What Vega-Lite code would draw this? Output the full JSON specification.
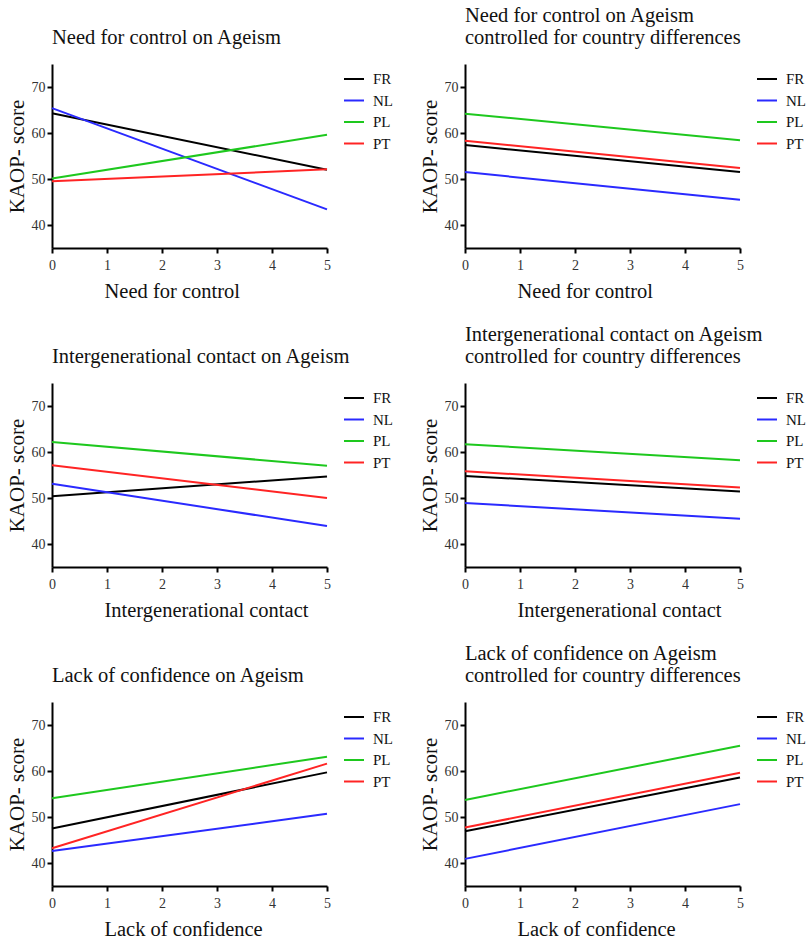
{
  "$schema": "https://vega.github.io/schema/vega-lite/v6.json",
  "background": "white",
  "padding": {"left": 6, "top": 5, "right": 2, "bottom": 2},
  "datasets": {
    "lines": [
      {"panel": 1, "country": "FR", "x": 0, "y": 64.3}, {"panel": 1, "country": "FR", "x": 5, "y": 52.0},
      {"panel": 1, "country": "NL", "x": 0, "y": 65.4}, {"panel": 1, "country": "NL", "x": 5, "y": 43.4},
      {"panel": 1, "country": "PL", "x": 0, "y": 50.1}, {"panel": 1, "country": "PL", "x": 5, "y": 59.6},
      {"panel": 1, "country": "PT", "x": 0, "y": 49.5}, {"panel": 1, "country": "PT", "x": 5, "y": 52.1},

      {"panel": 2, "country": "FR", "x": 0, "y": 57.4}, {"panel": 2, "country": "FR", "x": 5, "y": 51.5},
      {"panel": 2, "country": "NL", "x": 0, "y": 51.5}, {"panel": 2, "country": "NL", "x": 5, "y": 45.5},
      {"panel": 2, "country": "PL", "x": 0, "y": 64.2}, {"panel": 2, "country": "PL", "x": 5, "y": 58.4},
      {"panel": 2, "country": "PT", "x": 0, "y": 58.3}, {"panel": 2, "country": "PT", "x": 5, "y": 52.4},

      {"panel": 3, "country": "FR", "x": 0, "y": 50.4}, {"panel": 3, "country": "FR", "x": 5, "y": 54.7},
      {"panel": 3, "country": "NL", "x": 0, "y": 53.1}, {"panel": 3, "country": "NL", "x": 5, "y": 43.9},
      {"panel": 3, "country": "PL", "x": 0, "y": 62.2}, {"panel": 3, "country": "PL", "x": 5, "y": 57.0},
      {"panel": 3, "country": "PT", "x": 0, "y": 57.1}, {"panel": 3, "country": "PT", "x": 5, "y": 50.0},

      {"panel": 4, "country": "FR", "x": 0, "y": 54.8}, {"panel": 4, "country": "FR", "x": 5, "y": 51.4},
      {"panel": 4, "country": "NL", "x": 0, "y": 48.9}, {"panel": 4, "country": "NL", "x": 5, "y": 45.5},
      {"panel": 4, "country": "PL", "x": 0, "y": 61.7}, {"panel": 4, "country": "PL", "x": 5, "y": 58.2},
      {"panel": 4, "country": "PT", "x": 0, "y": 55.8}, {"panel": 4, "country": "PT", "x": 5, "y": 52.3},

      {"panel": 5, "country": "FR", "x": 0, "y": 47.5}, {"panel": 5, "country": "FR", "x": 5, "y": 59.7},
      {"panel": 5, "country": "NL", "x": 0, "y": 42.6}, {"panel": 5, "country": "NL", "x": 5, "y": 50.7},
      {"panel": 5, "country": "PL", "x": 0, "y": 54.1}, {"panel": 5, "country": "PL", "x": 5, "y": 63.1},
      {"panel": 5, "country": "PT", "x": 0, "y": 43.2}, {"panel": 5, "country": "PT", "x": 5, "y": 61.6},

      {"panel": 6, "country": "FR", "x": 0, "y": 46.9}, {"panel": 6, "country": "FR", "x": 5, "y": 58.6},
      {"panel": 6, "country": "NL", "x": 0, "y": 40.9}, {"panel": 6, "country": "NL", "x": 5, "y": 52.8},
      {"panel": 6, "country": "PL", "x": 0, "y": 53.7}, {"panel": 6, "country": "PL", "x": 5, "y": 65.5},
      {"panel": 6, "country": "PT", "x": 0, "y": 47.7}, {"panel": 6, "country": "PT", "x": 5, "y": 59.6}
    ]
  },
  "data": {"name": "lines"},
  "columns": 2,
  "spacing": {"row": 22, "column": 22},
  "resolve": {"legend": {"color": "independent"}, "scale": {"color": "independent"}},
  "concat": [
    {
      "title": {"text": "Need for control on Ageism"},
      "width": 275, "height": 184,
      "transform": [{"filter": "datum.panel == 1"}],
      "mark": {"type": "line", "strokeWidth": 2},
      "encoding": {
        "x": {"field": "x", "type": "quantitative", "scale": {"domain": [0, 5]}, "axis": {"title": "Need for control", "values": [0, 1, 2, 3, 4, 5], "format": "d"}},
        "y": {"field": "y", "type": "quantitative", "scale": {"domain": [35, 75]}, "axis": {"title": "KAOP- score", "values": [40, 50, 60, 70]}},
        "color": {"field": "country", "type": "nominal", "scale": {"domain": ["FR", "NL", "PL", "PT"], "range": ["#000000", "#2a2aff", "#1ec81e", "#ff2424"]}, "legend": {"title": null}}
      }
    },
    {
      "title": {"text": ["Need for control on Ageism", "controlled for country differences"]},
      "width": 275, "height": 184,
      "transform": [{"filter": "datum.panel == 2"}],
      "mark": {"type": "line", "strokeWidth": 2},
      "encoding": {
        "x": {"field": "x", "type": "quantitative", "scale": {"domain": [0, 5]}, "axis": {"title": "Need for control", "values": [0, 1, 2, 3, 4, 5], "format": "d"}},
        "y": {"field": "y", "type": "quantitative", "scale": {"domain": [35, 75]}, "axis": {"title": "KAOP- score", "values": [40, 50, 60, 70]}},
        "color": {"field": "country", "type": "nominal", "scale": {"domain": ["FR", "NL", "PL", "PT"], "range": ["#000000", "#2a2aff", "#1ec81e", "#ff2424"]}, "legend": {"title": null}}
      }
    },
    {
      "title": {"text": "Intergenerational contact on Ageism"},
      "width": 275, "height": 184,
      "transform": [{"filter": "datum.panel == 3"}],
      "mark": {"type": "line", "strokeWidth": 2},
      "encoding": {
        "x": {"field": "x", "type": "quantitative", "scale": {"domain": [0, 5]}, "axis": {"title": "Intergenerational contact", "values": [0, 1, 2, 3, 4, 5], "format": "d"}},
        "y": {"field": "y", "type": "quantitative", "scale": {"domain": [35, 75]}, "axis": {"title": "KAOP- score", "values": [40, 50, 60, 70]}},
        "color": {"field": "country", "type": "nominal", "scale": {"domain": ["FR", "NL", "PL", "PT"], "range": ["#000000", "#2a2aff", "#1ec81e", "#ff2424"]}, "legend": {"title": null}}
      }
    },
    {
      "title": {"text": ["Intergenerational contact on Ageism", "controlled for country differences"]},
      "width": 275, "height": 184,
      "transform": [{"filter": "datum.panel == 4"}],
      "mark": {"type": "line", "strokeWidth": 2},
      "encoding": {
        "x": {"field": "x", "type": "quantitative", "scale": {"domain": [0, 5]}, "axis": {"title": "Intergenerational contact", "values": [0, 1, 2, 3, 4, 5], "format": "d"}},
        "y": {"field": "y", "type": "quantitative", "scale": {"domain": [35, 75]}, "axis": {"title": "KAOP- score", "values": [40, 50, 60, 70]}},
        "color": {"field": "country", "type": "nominal", "scale": {"domain": ["FR", "NL", "PL", "PT"], "range": ["#000000", "#2a2aff", "#1ec81e", "#ff2424"]}, "legend": {"title": null}}
      }
    },
    {
      "title": {"text": "Lack of confidence on Ageism"},
      "width": 275, "height": 184,
      "transform": [{"filter": "datum.panel == 5"}],
      "mark": {"type": "line", "strokeWidth": 2},
      "encoding": {
        "x": {"field": "x", "type": "quantitative", "scale": {"domain": [0, 5]}, "axis": {"title": "Lack of confidence", "values": [0, 1, 2, 3, 4, 5], "format": "d"}},
        "y": {"field": "y", "type": "quantitative", "scale": {"domain": [35, 75]}, "axis": {"title": "KAOP- score", "values": [40, 50, 60, 70]}},
        "color": {"field": "country", "type": "nominal", "scale": {"domain": ["FR", "NL", "PL", "PT"], "range": ["#000000", "#2a2aff", "#1ec81e", "#ff2424"]}, "legend": {"title": null}}
      }
    },
    {
      "title": {"text": ["Lack of confidence on Ageism", "controlled for country differences"]},
      "width": 275, "height": 184,
      "transform": [{"filter": "datum.panel == 6"}],
      "mark": {"type": "line", "strokeWidth": 2},
      "encoding": {
        "x": {"field": "x", "type": "quantitative", "scale": {"domain": [0, 5]}, "axis": {"title": "Lack of confidence", "values": [0, 1, 2, 3, 4, 5], "format": "d"}},
        "y": {"field": "y", "type": "quantitative", "scale": {"domain": [35, 75]}, "axis": {"title": "KAOP- score", "values": [40, 50, 60, 70]}},
        "color": {"field": "country", "type": "nominal", "scale": {"domain": ["FR", "NL", "PL", "PT"], "range": ["#000000", "#2a2aff", "#1ec81e", "#ff2424"]}, "legend": {"title": null}}
      }
    }
  ],
  "config": {
    "font": "Liberation Serif",
    "view": {"stroke": null},
    "title": {"anchor": "start", "frame": "group", "font": "Liberation Serif", "fontSize": 20.5, "fontWeight": "normal", "color": "#111", "offset": 16, "lineHeight": 22},
    "axis": {"grid": false, "domainColor": "#000", "domainWidth": 2, "tickColor": "#000", "tickWidth": 2, "tickSize": 5, "labelFont": "Liberation Serif", "labelFontSize": 14, "labelColor": "#333", "titleFont": "Liberation Serif", "titleFontWeight": "normal", "titleColor": "#111"},
    "axisX": {"titleFontSize": 20.5, "titlePadding": 9, "labelPadding": 5, "labelFlush": false, "titleAnchor": "start", "titleAlign": "left", "titleX": 52},
    "axisY": {"titleFontSize": 21, "titlePadding": 4, "labelPadding": 2},
    "legend": {"symbolType": "stroke", "symbolSize": 400, "symbolStrokeWidth": 2, "labelFont": "Liberation Serif", "labelFontSize": 15, "labelColor": "#111", "rowPadding": 2.5, "offset": 8, "padding": 4, "labelOffset": 8}
  }
}
